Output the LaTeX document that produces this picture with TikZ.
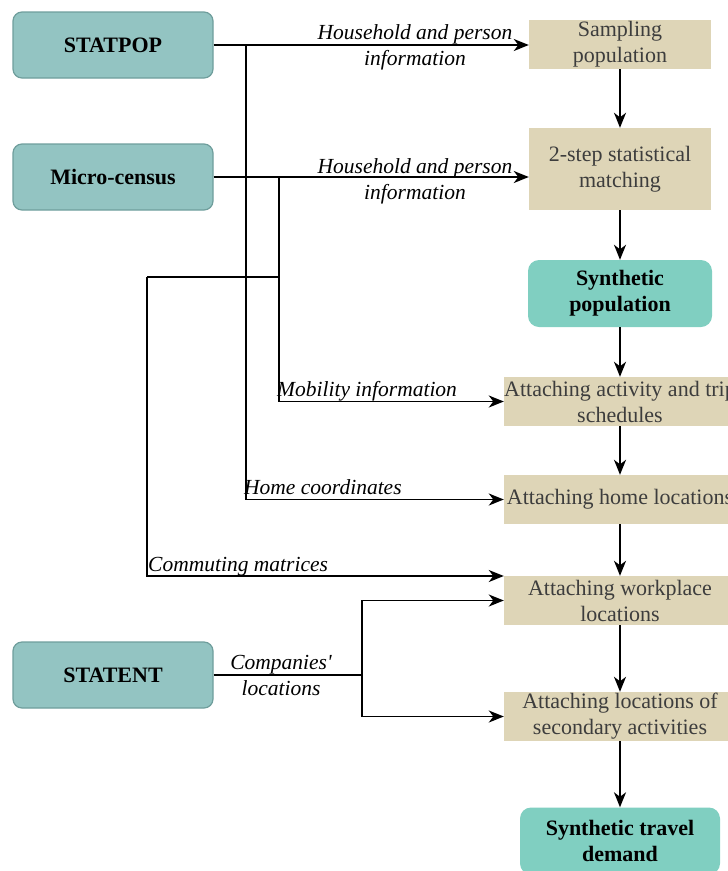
\documentclass[tikz,border=0pt]{standalone}
\usepackage{fontspec}
\setmainfont{Liberation Serif}
\usepackage{xcolor}
\usepackage{tikz}
\usetikzlibrary{arrows.meta}
\definecolor{srcfill}{HTML}{93C4C2}
\definecolor{srcline}{HTML}{6F9E9C}
\definecolor{synfill}{HTML}{80CFC1}
\definecolor{stepfill}{HTML}{DED5B7}
\definecolor{steptext}{HTML}{3D3D3D}
\tikzstyle{srcnode}=[rectangle, draw=srcline, fill=srcfill, rounded corners=9pt, line width=1.2pt, minimum width=200pt, minimum height=66pt, font=\fontsize{22}{26}\selectfont\bfseries]
\tikzstyle{stepnode}=[rectangle, fill=stepfill, text=steptext, align=center, inner sep=0pt, font=\fontsize{22}{26}\selectfont]
\tikzstyle{outnode}=[rectangle, fill=synfill, rounded corners=11pt, align=center, inner sep=0pt, minimum height=67pt, font=\fontsize{22}{26}\selectfont\bfseries]
\tikzstyle{flow}=[-{Stealth[length=15pt,width=12pt,inset=4.5pt]}, line width=1.7pt]
\tikzstyle{wire}=[line width=1.7pt]
\tikzstyle{lbl}=[font=\fontsize{21.5}{26}\selectfont\itshape, align=center, inner sep=0pt]

\begin{document}
\begin{tikzpicture}[x=1pt,y=-1pt]
        \useasboundingbox (0,0) rectangle (728,871);
        % data sources
        \node[srcnode] (statpop) at (113,45) {STATPOP};
        \node[srcnode] (mc) at (113,177) {Micro-census};
        \node[srcnode] (statent) at (113,675) {STATENT};
        % pipeline steps
        \node[stepnode, minimum width=182pt, minimum height=49pt] (samp) at (620,44.5) {Sampling\\population};
        \node[stepnode, minimum width=182pt, minimum height=82pt] (match) at (620,169) {2-step statistical\\matching};
        \node[outnode, minimum width=184pt] (synpop) at (620,293.5) {Synthetic\\population};
        \node[stepnode, minimum width=232pt, minimum height=49pt] (act) at (620,401.5) {Attaching activity and trip\\schedules};
        \node[stepnode, minimum width=232pt, minimum height=49pt] (home) at (620,499.5) {Attaching home locations};
        \node[stepnode, minimum width=232pt, minimum height=49pt] (work) at (620,600.5) {Attaching workplace\\locations};
        \node[stepnode, minimum width=232pt, minimum height=49pt] (sec) at (620,716.5) {Attaching locations of\\secondary activities};
        \node[outnode, minimum width=200pt] (demand) at (620,841) {Synthetic travel\\demand};
        \draw[flow] (samp) -- (match);
        \draw[flow] (match) -- (synpop);
        \draw[flow] (synpop) -- (act);
        \draw[flow] (act) -- (home);
        \draw[flow] (home) -- (work);
        \draw[flow] (work) -- (sec);
        \draw[flow] (sec) -- (demand);
        % junctions
        \coordinate (ja) at (246,45);
        \coordinate (jb) at (279,177);
        \coordinate (jc) at (279,277);
        \coordinate (jd) at (147,277);
        \coordinate (je) at (362,675);
        \coordinate (wkin) at ([yshift=24.5pt]work.west);
        % inputs
        \draw[flow] (statpop.east) -- (statpop.east -| samp.west);
        \draw[flow] (mc.east) -- (mc.east -| match.west);
        \draw[flow] (ja) |- (home.west);
        \draw[flow] (jb) |- (act.west);
        \draw[wire] (jc) -- (jd);
        \draw[flow] (jd) |- (wkin);
        \draw[wire] (statent.east) -- (je);
        \draw[flow] (je) |- (work.west);
        \draw[flow] (je) |- (sec.west);
        % labels
        \node[lbl] (hh1) at (415,47) {Household and person\\information};
        \node[lbl] (hh2) at (415,181) {Household and person\\information};
        \node[lbl, anchor=base west] (mob) at (277,396) {Mobility information};
        \node[lbl, anchor=base west] (hc) at (244,494) {Home coordinates};
        \node[lbl, anchor=base west] (cm) at (148,571) {Commuting matrices};
        \node[lbl] (cl) at (281,675) {Companies\textquotesingle\\locations};
\end{tikzpicture}
\end{document}
